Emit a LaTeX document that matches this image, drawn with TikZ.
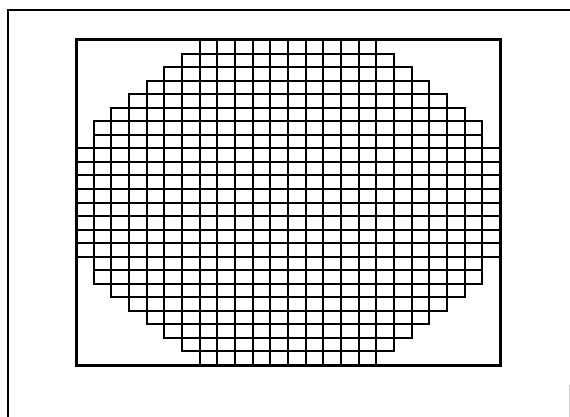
\documentclass[tikz,border=0pt]{standalone}
\begin{document}
\begin{tikzpicture}[x=1pt,y=-1pt,
  cellbox/.style={draw=black,line width=2pt},
  framebox/.style={draw=black,line width=3pt},
  outerline/.style={draw=black,line width=2pt}]
\useasboundingbox (0,0) rectangle (570,417);
\fill[white] (0,0) rectangle (570,417);
% outer frame (top and left visible)
\draw[outerline] (8,417) -- (8,10) -- (570,10);
\draw[gray!40,line width=1pt] (569.5,385) -- (569.5,417);
% grid cells
\def\cw{17.667}
\def\ch{13.542}
\foreach \r in {0,...,23}{
  \pgfmathtruncatemacro\k{{7,6,5,4,3,2,1,1,0,0,0,0,0,0,0,0,1,1,2,3,4,5,6,7}[\r]}
  \pgfmathtruncatemacro\e{23-\k}
  \pgfmathtruncatemacro\ya{round(40+\r*\ch)}
  \pgfmathtruncatemacro\yb{round(40+(\r+1)*\ch)}
  \foreach \c in {\k,...,\e}{
    \pgfmathtruncatemacro\xa{round(76+\c*\cw)}
    \pgfmathtruncatemacro\xb{round(76+(\c+1)*\cw)}
    \draw[cellbox] (\xa,\ya) rectangle (\xb,\yb);
  }
}
% inner frame
\draw[framebox] (76,40) rectangle (500,365);
\end{tikzpicture}
\end{document}
